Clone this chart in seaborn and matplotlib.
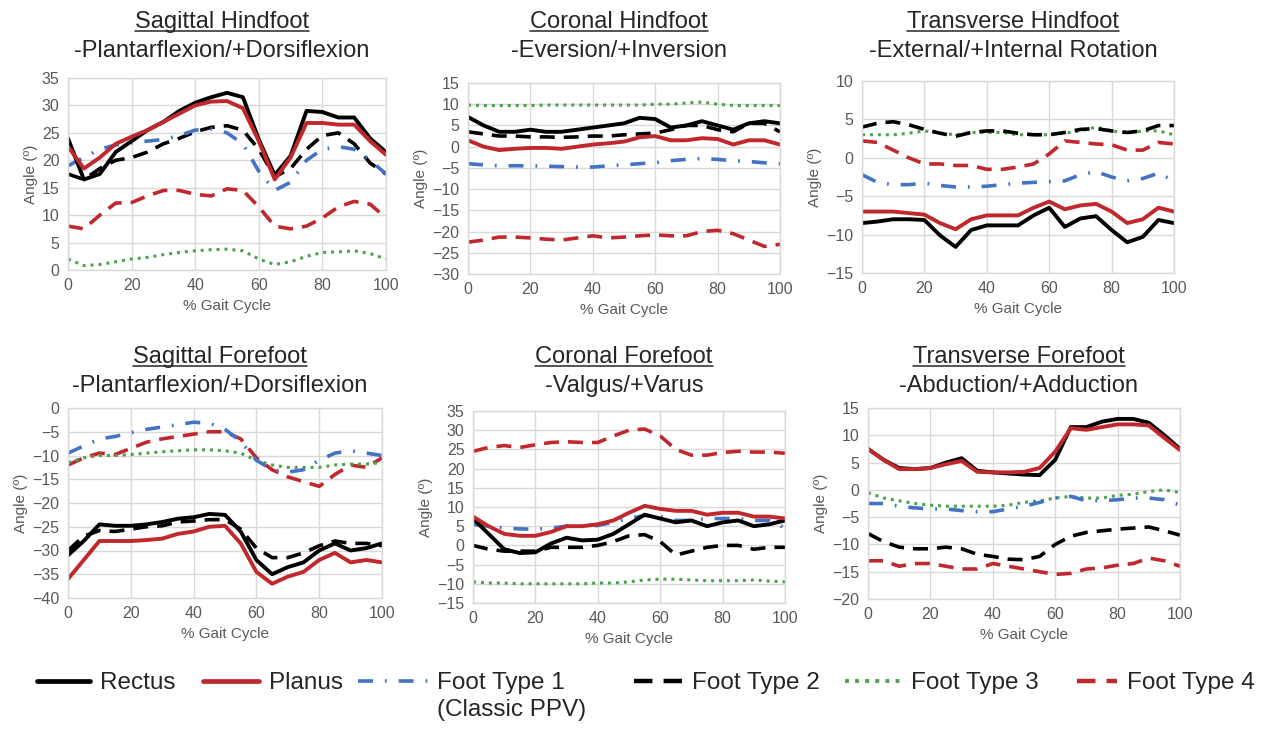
import matplotlib
matplotlib.use("Agg")
import matplotlib.pyplot as plt
import seaborn as sns
import pandas as pd
from matplotlib.lines import Line2D

# ---------------- data ----------------
pct = list(range(0, 101, 5))
series_names = ["Rectus", "Planus", "Foot Type 1", "Foot Type 2", "Foot Type 3", "Foot Type 4"]

# Sagittal Hindfoot
sh_rectus = [24, 16.5, 17.5, 21.5, 23.5, 25.5, 27, 29, 30.5, 31.5, 32.3, 31.5, 23.8, 17.3, 20.8, 29, 28.8, 27.8, 27.8, 24, 21.5]
sh_planus = [22.5, 18.5, 20.5, 23, 24.3, 25.5, 27, 28.5, 30, 30.7, 30.8, 29.5, 23.5, 16.5, 20.5, 26.8, 26.8, 26.5, 26.5, 23.5, 21]
sh_ft1 = [19, 20.5, 22, 22.8, 23.2, 23.5, 23.8, 24.5, 25.5, 25.7, 25, 23, 18, 14.5, 16, 20, 22, 22.5, 22, 20, 17.5]
sh_ft2 = [17.5, 16.5, 18.5, 20, 20.5, 21.5, 23, 24, 25.2, 26, 26.3, 25.5, 22, 17, 18.5, 22, 24.5, 25, 23, 19.5, 17.5]
sh_ft3 = [2, 0.8, 1.0, 1.5, 2, 2.3, 2.8, 3.2, 3.5, 3.7, 3.8, 3.5, 2, 1, 1.5, 2.5, 3.2, 3.3, 3.5, 3, 2]
sh_ft4 = [8, 7.5, 10, 12.2, 12.3, 13.5, 14.5, 14.5, 13.8, 13.5, 14.8, 14.5, 11.5, 8, 7.5, 8, 9.5, 11.5, 12.5, 12, 9.5]

# Coronal Hindfoot
ch_rectus = [7, 5, 3.5, 3.5, 4, 3.5, 3.5, 4, 4.5, 5, 5.5, 6.8, 6.5, 4.5, 5, 6, 5, 4, 5.5, 6, 5.5]
ch_planus = [1.5, 0, -0.8, -0.5, -0.3, -0.3, -0.5, 0, 0.5, 0.8, 1.2, 2.2, 2.5, 1.5, 1.5, 2, 1.8, 0.5, 1.5, 1.5, 0.5]
ch_ft1 = [-4, -4.3, -4.5, -4.5, -4.5, -4.6, -4.7, -4.8, -4.8, -4.5, -4.3, -4, -3.8, -3.3, -3, -2.8, -3, -3.3, -3.5, -3.8, -4]
ch_ft2 = [3.5, 3, 2.5, 2.5, 2.3, 2.3, 2.2, 2.3, 2.5, 2.5, 2.8, 3, 3.2, 4, 5, 5, 4, 3.5, 5.5, 5.5, 3.5]
ch_ft3 = [9.8, 9.7, 9.7, 9.7, 9.7, 9.8, 9.8, 9.8, 9.8, 9.8, 9.8, 9.8, 10, 10, 10.3, 10.5, 10, 9.7, 9.7, 9.7, 9.7]
ch_ft4 = [-22.5, -22, -21.3, -21.3, -21.5, -21.8, -22, -21.5, -21, -21.5, -21.3, -21, -20.8, -21, -21, -20, -19.7, -20.5, -22, -23.5, -23]

# Transverse Hindfoot
th_rectus = [-8.5, -8.3, -8, -8, -8.1, -10.1, -11.6, -9.4, -8.8, -8.8, -8.8, -7.5, -6.5, -9, -7.9, -7.6, -9.4, -11, -10.3, -8.1, -8.5]
th_planus = [-7, -7, -7, -7.2, -7.4, -8.5, -9.3, -8, -7.5, -7.5, -7.5, -6.5, -5.7, -6.7, -6.2, -6, -7, -8.5, -8, -6.5, -7]
th_ft1 = [-2.2, -3.2, -3.5, -3.5, -3.3, -3.6, -3.8, -3.8, -3.7, -3.5, -3.3, -3.2, -3.1, -3, -2.2, -1.8, -2.5, -3, -2.7, -2, -3]
th_ft2 = [4, 4.5, 4.7, 4.3, 3.7, 3.2, 2.8, 3.3, 3.5, 3.5, 3.2, 3, 3, 3.3, 3.7, 3.8, 3.5, 3.3, 3.5, 4.2, 4.2]
th_ft3 = [3, 3, 3, 3.2, 3.5, 3.2, 3, 3.3, 3.3, 3.3, 3, 3, 3, 3.2, 3.5, 4, 3.5, 3.2, 3.5, 3.5, 3]
th_ft4 = [2.2, 2, 1, 0, -0.8, -0.8, -1, -1, -1.5, -1.5, -1.2, -0.8, 0.5, 2.2, 2, 1.8, 1.7, 1, 1, 2, 1.8]

# Sagittal Forefoot
sf_rectus = [-31, -28, -24.5, -24.8, -24.8, -24.5, -24, -23.3, -23, -22.3, -22.5, -26, -32, -35, -33.5, -32.5, -30, -28.5, -30, -29.5, -28.5]
sf_planus = [-36, -32, -28, -28, -28, -27.8, -27.5, -26.5, -26, -25, -24.8, -28.5, -34.5, -37, -35.5, -34.5, -32, -30.5, -32.5, -32, -32.5]
sf_ft1 = [-9.5, -8, -6.5, -6, -5.2, -4.5, -4, -3.5, -3, -3.2, -4.5, -7, -11, -13, -13.5, -13, -11, -9.5, -9, -9.5, -10]
sf_ft2 = [-30, -27, -25.8, -26, -25.5, -25, -24.8, -24, -23.8, -23.5, -23.5, -25.5, -29.5, -31.5, -31.5, -30.5, -29, -28, -28.5, -28.5, -29]
sf_ft3 = [-11.5, -10.5, -10, -10, -9.8, -9.5, -9.2, -9, -8.8, -8.8, -9, -9.5, -11, -12, -12.5, -12.5, -12.5, -12, -11.8, -11.8, -11.5]
sf_ft4 = [-12, -10.5, -9.5, -9.8, -8.5, -7.2, -6.5, -6, -5.5, -5, -5, -6.5, -10.5, -13, -14.5, -15.5, -16.5, -14, -12, -12.5, -10.5]

# Coronal Forefoot
cf_rectus = [7, 3, -1, -2, -1.8, 0.5, 2, 1.3, 1.5, 3, 5.5, 8, 7, 6, 6.5, 5, 6, 6.5, 5, 5.5, 6.5]
cf_planus = [7.5, 5, 3, 2.5, 2.5, 3.5, 5, 5, 5.5, 6.5, 8.5, 10.3, 9.5, 9, 9, 8, 8.5, 8.5, 7.5, 7.5, 7]
cf_ft1 = [5.5, 5, 4.5, 4.3, 4.2, 4.5, 5, 5, 5.2, 6, 7, 7.8, 7.5, 6.5, 6.5, 7, 7, 7, 6.5, 6.5, 4.5]
cf_ft2 = [0, -1, -1.5, -1.5, -1.5, -0.5, -0.5, -0.5, 0, 1, 2.5, 2.8, 1, -2.5, -1.5, -0.5, 0, 0, -1, -0.5, -0.5]
cf_ft3 = [-9.5, -9.8, -9.8, -10, -10, -10, -10, -10, -9.8, -9.8, -9.5, -9, -8.8, -8.8, -9, -9.2, -9.2, -9.2, -9, -9.3, -9.5]
cf_ft4 = [24.5, 25.5, 26, 25.5, 26.2, 26.8, 27, 26.8, 26.8, 28.5, 30, 30.3, 28.5, 25, 23.5, 23.5, 24.2, 24.5, 24.3, 24.3, 24]

# Transverse Forefoot
tf_rectus = [7.5, 5.5, 4, 3.8, 4, 5, 5.8, 3.5, 3.2, 3, 2.8, 2.7, 5.5, 11.5, 11.5, 12.5, 13, 13, 12.3, 10, 7.5]
tf_planus = [7.5, 5.5, 3.8, 3.8, 4, 4.7, 5.3, 3.3, 3.2, 3.2, 3.3, 4, 7, 11.3, 11, 11.5, 12, 12, 11.8, 9.5, 7.3]
tf_ft1 = [-2.5, -2.5, -3, -3.3, -3.5, -3.5, -3.8, -4, -4, -3.5, -3, -2.3, -1.5, -1.2, -2, -2, -1.8, -1.5, -1.5, -1.8, -2.8]
tf_ft2 = [-8, -9.5, -10.5, -10.8, -10.8, -10.5, -10.8, -11.8, -12.2, -12.7, -12.8, -12.2, -10, -8.5, -7.8, -7.5, -7.2, -7, -6.8, -7.5, -8.3]
tf_ft3 = [-0.5, -1.5, -2, -2.5, -2.8, -3, -3, -3, -3, -2.8, -2.3, -2, -1.5, -1.2, -1.5, -1.5, -1, -0.8, -0.3, 0, -0.5]
tf_ft4 = [-13, -13, -14, -13.5, -13.5, -14, -14.5, -14.5, -13.5, -14, -14.5, -15, -15.5, -15.3, -14.5, -14.3, -13.8, -13.5, -12.5, -13, -14]

titles_main = ["Sagittal Hindfoot", "Coronal Hindfoot", "Transverse Hindfoot",
               "Sagittal Forefoot", "Coronal Forefoot", "Transverse Forefoot"]
titles_sub = ["-Plantarflexion/+Dorsiflexion", "-Eversion/+Inversion", "-External/+Internal Rotation",
              "-Plantarflexion/+Dorsiflexion", "-Valgus/+Varus", "-Abduction/+Adduction"]
y_ranges = [(0, 35), (-30, 15), (-15, 10), (-40, 0), (-15, 35), (-20, 15)]

panel_data = [
    [sh_rectus, sh_planus, sh_ft1, sh_ft2, sh_ft3, sh_ft4],
    [ch_rectus, ch_planus, ch_ft1, ch_ft2, ch_ft3, ch_ft4],
    [th_rectus, th_planus, th_ft1, th_ft2, th_ft3, th_ft4],
    [sf_rectus, sf_planus, sf_ft1, sf_ft2, sf_ft3, sf_ft4],
    [cf_rectus, cf_planus, cf_ft1, cf_ft2, cf_ft3, cf_ft4],
    [tf_rectus, tf_planus, tf_ft1, tf_ft2, tf_ft3, tf_ft4],
]

# ---------------- styles ----------------
RED = "#C0282D"
BLUE = "#4472C4"
GREEN = "#4EA24E"
styles = {
    "Rectus": dict(color="black", lw=2.8, ls="-"),
    "Planus": dict(color=RED, lw=2.8, ls="-"),
    "Foot Type 1": dict(color=BLUE, lw=2.6, ls=(0, (4.15, 3.3, 0.5, 3.3))),
    "Foot Type 2": dict(color="black", lw=2.6, ls=(0, (4.15, 2.5))),
    "Foot Type 3": dict(color=GREEN, lw=2.2, ls=(0, (1.0, 1.6))),
    "Foot Type 4": dict(color=RED, lw=2.6, ls=(0, (4.15, 2.5))),
}
draw_order = ["Foot Type 4", "Foot Type 3", "Foot Type 2", "Foot Type 1", "Rectus", "Planus"]

sns.set_theme(style="whitegrid")
plt.rcParams["font.family"] = ["Liberation Sans", "DejaVu Sans"]

W, H = 1263, 730
fig = plt.figure(figsize=(W / 100, H / 100), dpi=100)
fig.patch.set_facecolor("white")

# axes boxes in px: left, top, width, height
boxes = [(68, 78, 318, 192), (468, 83, 312, 191), (862, 81, 312, 192),
         (68, 408, 314, 190), (473, 411, 312, 192), (868, 408, 312, 191)]
title_base = [(28, 57), (28, 57), (28, 57), (363, 392), (363, 392), (363, 392)]

GRID = "#D9D9D9"
TXT = "#595959"
title_texts = []
for i, (l, t, w, h) in enumerate(boxes):
    ax = fig.add_axes([l / W, 1 - (t + h) / H, w / W, h / H])
    df = pd.DataFrame({"pct": pct})
    for name, vals in zip(series_names, panel_data[i]):
        df[name] = vals
    for name in draw_order:
        st = styles[name]
        sns.lineplot(data=df, x="pct", y=name, ax=ax, color=st["color"],
                     linewidth=st["lw"], linestyle=st["ls"], legend=False)
    ymin, ymax = y_ranges[i]
    ax.set_xlim(0, 100)
    ax.set_ylim(ymin, ymax)
    ax.set_xticks(range(0, 101, 20))
    ax.set_yticks(range(ymin, ymax + 1, 5))
    ax.grid(True, color=GRID, lw=1.0)
    for sp in ax.spines.values():
        sp.set_color(GRID)
        sp.set_linewidth(1.0)
    ax.tick_params(axis="both", length=0, labelsize=11.5, labelcolor=TXT, pad=6)
    ax.set_xlabel("% Gait Cycle", fontsize=11, color=TXT, labelpad=4)
    ax.set_ylabel("Angle (º)", fontsize=11, color=TXT, labelpad=3)
    cx = (l + w / 2 - 5) / W
    b1, b2 = title_base[i]
    t1 = fig.text(cx, 1 - b1 / H, titles_main[i], ha="center", va="baseline",
                  fontsize=17, color="#262626")
    fig.text(cx, 1 - b2 / H, titles_sub[i], ha="center", va="baseline",
             fontsize=17, color="#262626")
    title_texts.append((t1, b1))

# legend entries: handle start px, handle length (font units), handle lw extra
leg_y = 1 - 683 / H
leg_specs = [("Rectus", 37, 2.2, 0.6), ("Planus", 203, 2.3, 0.6), ("Foot Type 1", 358, 2.86, 0.0),
             ("Foot Type 2", 634, 2.0, 0.6), ("Foot Type 3", 845, 2.3, 0.6), ("Foot Type 4", 1077, 1.65, 0.6)]
ft1_text = None
for name, x0, hl, extra in leg_specs:
    st = styles[name]
    h = Line2D([], [], color=st["color"], lw=st["lw"] + extra, ls=st["ls"])
    leg = fig.legend(handles=[h], labels=[name], loc="center left",
                     bbox_to_anchor=(x0 / W, leg_y), frameon=False, fontsize=17.5,
                     handlelength=hl, handletextpad=0.4, borderpad=0, borderaxespad=0)
    for tx in leg.get_texts():
        tx.set_color("#262626")
        if name == "Foot Type 1":
            ft1_text = tx
sub_label = fig.text(443 / W, 1 - 710 / H, "(Classic PPV)", ha="left", va="center",
                     fontsize=17.5, color="#262626")

# underline the first title line; align the legend's second line
fig.canvas.draw()
renderer = fig.canvas.get_renderer()
for t1, b1 in title_texts:
    bb = t1.get_window_extent(renderer)
    yline = 1 - (b1 + 3) / H
    fig.add_artist(Line2D([bb.x0 / W, bb.x1 / W], [yline, yline], transform=fig.transFigure,
                          color="#262626", lw=1.1))
if ft1_text is not None:
    fb = ft1_text.get_window_extent(renderer)
    sub_label.set_x(fb.x0 / W)

fig.savefig("out.png", dpi=100)
